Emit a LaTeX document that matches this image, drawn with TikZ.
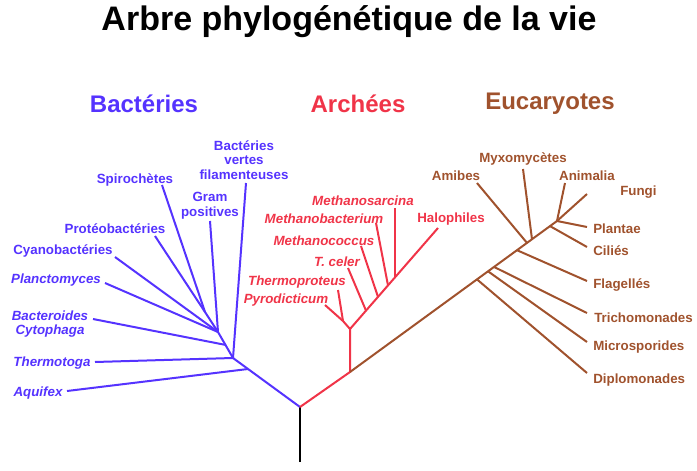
\documentclass[tikz,border=0pt]{standalone}
\usepackage{fontspec}
\setmainfont{Liberation Sans}
\definecolor{bact}{RGB}{85,51,255}
\definecolor{arch}{RGB}{240,52,72}
\definecolor{euk}{RGB}{160,82,45}
\tikzset{
  lbl/.style={font=\bfseries\fontsize{10}{11}\selectfont, inner sep=0pt, align=center},
  ilbl/.style={lbl, font=\bfseries\itshape\fontsize{10}{11}\selectfont},
  grp/.style={font=\bfseries\fontsize{18}{20}\selectfont, inner sep=0pt},
  br/.style={line width=1.5pt},
}
\begin{document}
\begin{tikzpicture}[x=0.75pt,y=-0.75pt]
            \useasboundingbox (0,0) rectangle (697,471);

            \node[font=\bfseries\fontsize{25.5}{30}\selectfont, inner sep=0pt] (title) at (349,22) {Arbre phylogénétique de la vie};
            \node[grp, bact] (gbact) at (144,104) {Bactéries};
            \node[grp, arch] (garch) at (358,104) {Archées};
            \node[grp, euk] (geuk) at (550,104) {Eucaryotes};

            % racine
            \coordinate (root) at (300,407);
            \coordinate (base) at (300,462);
            \draw[black, line width=2pt] (base) -- (root);

            % bacteries
            \coordinate (bA) at (233,358);
            \coordinate (bAq) at (248,369);
            \coordinate (bB) at (218,332);
            \coordinate (bBc) at (226,345);
            \coordinate (bC) at (205,312);
            \coordinate (eAquifex) at (67,391);
            \coordinate (eThermotoga) at (95,362);
            \coordinate (eVertes) at (246,183);
            \coordinate (eBactero) at (93,319);
            \coordinate (eGram) at (210,221);
            \coordinate (ePlancto) at (105,283);
            \coordinate (eCyano) at (115,257);
            \coordinate (eProteo) at (155,236);
            \coordinate (eSpiro) at (162,185);

            \draw[bact, br] (root) -- (bA) -- (bB) -- (bC) -- (eSpiro);
            \draw[bact, br] (bAq) -- (eAquifex);
            \draw[bact, br] (bA) -- (eThermotoga);
            \draw[bact, br] (bA) -- (eVertes);
            \draw[bact, br] (bBc) -- (eBactero);
            \draw[bact, br] (bB) -- (eGram);
            \draw[bact, br] (bB) -- (ePlancto);
            \draw[bact, br] (bB) -- (eCyano);
            \draw[bact, br] (bC) -- (eProteo);

            \node[lbl, bact] (nVertes) at (244,160) {Bactéries\\vertes\\filamenteuses};
            \node[lbl, bact] (nSpiro) at (135,180) {Spirochètes};
            \node[lbl, bact] (nGram) at (210,206) {Gram\\positives};
            \node[lbl, bact] (nProteo) at (115,229) {Protéobactéries};
            \node[lbl, bact] (nCyano) at (63,251) {Cyanobactéries};
            \node[ilbl, bact] (nPlancto) at (56,280) {Planctomyces};
            \node[ilbl, bact] (nBactero) at (50,324) {Bacteroides\\Cytophaga};
            \node[ilbl, bact] (nThermotoga) at (52,363) {Thermotoga};
            \node[ilbl, bact] (nAquifex) at (38,393) {Aquifex};

            % archees
            \coordinate (aA) at (350,372);
            \coordinate (aB) at (350,329);
            \coordinate (aC) at (343,321);
            \coordinate (aCeler) at (366,310.6);
            \coordinate (aCoccus) at (378,296.9);
            \coordinate (aBacter) at (388,285.4);
            \coordinate (aSarcina) at (395,277.3);
            \coordinate (eHalo) at (438,228);
            \coordinate (ePyro) at (325,305);
            \coordinate (eThermoprot) at (338,290);
            \coordinate (eCeler) at (348,268);
            \coordinate (eCoccus) at (361,246);
            \coordinate (eBacter) at (376,223);
            \coordinate (eSarcina) at (395,208);

            \draw[arch, br] (root) -- (aA) -- (aB) -- (eHalo);
            \draw[arch, br] (aB) -- (aC) -- (ePyro);
            \draw[arch, br] (aC) -- (eThermoprot);
            \draw[arch, br] (aCeler) -- (eCeler);
            \draw[arch, br] (aCoccus) -- (eCoccus);
            \draw[arch, br] (aBacter) -- (eBacter);
            \draw[arch, br] (aSarcina) -- (eSarcina);

            \node[ilbl, arch] (nSarcina) at (363,201) {Methanosarcina};
            \node[ilbl, arch] (nBacter) at (324,219) {Methanobacterium};
            \node[ilbl, arch] (nCoccus) at (324,241) {Methanococcus};
            \node[ilbl, arch] (nCeler) at (337,262) {T. celer};
            \node[ilbl, arch] (nThermoprot) at (297,282) {Thermoproteus};
            \node[ilbl, arch] (nPyro) at (286,300) {Pyrodicticum};
            \node[lbl, arch] (nHalo) at (451,219) {Halophiles};

            % eucaryotes
            \coordinate (kTop) at (557,221);
            \coordinate (kDiplo) at (477,279.4);
            \coordinate (kMicro) at (488,271.3);
            \coordinate (kTricho) at (494,266.9);
            \coordinate (kFlag) at (517,250.2);
            \coordinate (kAmibes) at (527,242.9);
            \coordinate (kMyxo) at (532,239.2);
            \coordinate (kCilies) at (550,226.1);
            \coordinate (eDiplo) at (587,373);
            \coordinate (eMicro) at (587,342);
            \coordinate (eTricho) at (587,313);
            \coordinate (eFlag) at (587,281);
            \coordinate (eCilies) at (587,247);
            \coordinate (ePlantae) at (587,227);
            \coordinate (eFungi) at (587,194);
            \coordinate (eAnimalia) at (565,183);
            \coordinate (eMyxo) at (523,169);
            \coordinate (eAmibes) at (477,183);

            \draw[euk, br] (aA) -- (kTop);
            \draw[euk, br] (kDiplo) -- (eDiplo);
            \draw[euk, br] (kMicro) -- (eMicro);
            \draw[euk, br] (kTricho) -- (eTricho);
            \draw[euk, br] (kFlag) -- (eFlag);
            \draw[euk, br] (kAmibes) -- (eAmibes);
            \draw[euk, br] (kMyxo) -- (eMyxo);
            \draw[euk, br] (kCilies) -- (eCilies);
            \draw[euk, br] (kTop) -- (ePlantae);
            \draw[euk, br] (kTop) -- (eFungi);
            \draw[euk, br] (kTop) -- (eAnimalia);

            \node[lbl, euk] (nMyxo) at (523,159) {Myxomycètes};
            \node[lbl, euk] (nAmibes) at (456,176) {Amibes};
            \node[lbl, euk] (nAnimalia) at (587,176) {Animalia};
            \node[lbl, euk, anchor=west] (nFungi) at (620,192) {Fungi};
            \node[lbl, euk, anchor=west] (nPlantae) at (593,229) {Plantae};
            \node[lbl, euk, anchor=west] (nCilies) at (593,251) {Ciliés};
            \node[lbl, euk, anchor=west] (nFlag) at (593,285) {Flagellés};
            \node[lbl, euk, anchor=west] (nTricho) at (594,318) {Trichomonades};
            \node[lbl, euk, anchor=west] (nMicro) at (593,347) {Microsporides};
            \node[lbl, euk, anchor=west] (nDiplo) at (593,380) {Diplomonades};
        \end{tikzpicture}
\end{document}
